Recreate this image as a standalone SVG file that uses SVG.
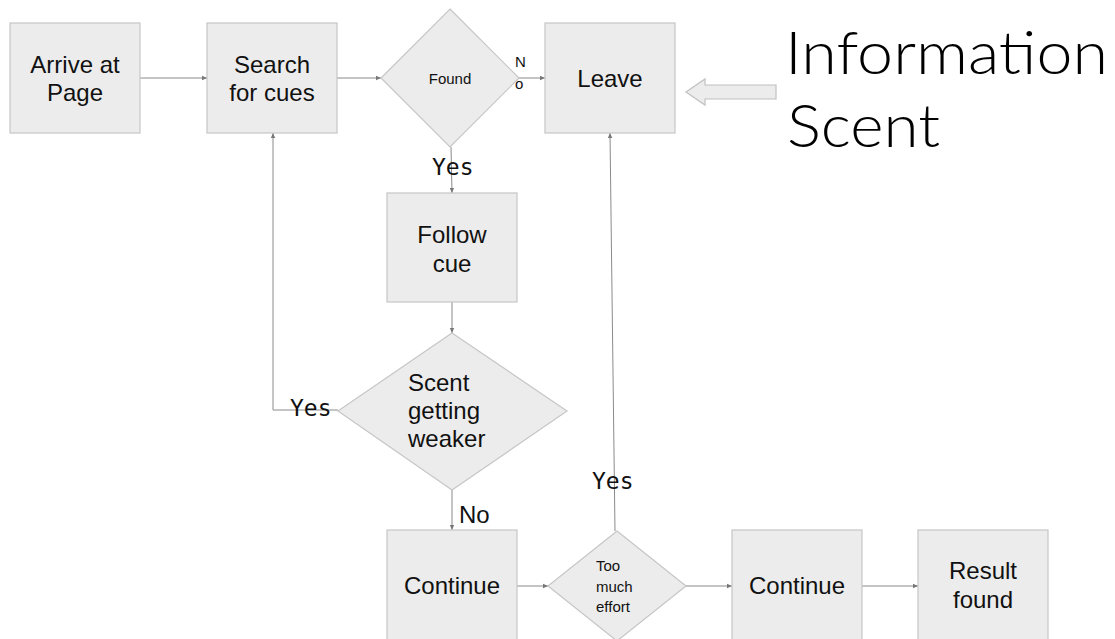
<svg xmlns="http://www.w3.org/2000/svg" width="1115" height="639" viewBox="0 0 1115 639">
<style>
.box{fill:#ececec;stroke:#c6c6c6;stroke-width:1.2}
.t{font-family:"Liberation Sans",Arial,sans-serif;font-size:24px;fill:#111}
.ts{font-family:"Liberation Sans",Arial,sans-serif;font-size:15px;fill:#111}
.lbl{font-family:"DejaVu Sans Mono",monospace;font-size:23px;fill:#111}
.big{font-family:Lato,"Open Sans",sans-serif;font-weight:300;font-size:60px;fill:#000}
.c{fill:none;stroke:#8a8a8a;stroke-width:1}
</style>
<defs>
<marker id="ah" markerWidth="6" markerHeight="6" refX="5" refY="3" orient="auto" markerUnits="userSpaceOnUse">
<path d="M0,0.8 L5,3 L0,5.2 Z" fill="#777"/>
</marker>
</defs>
<rect width="1115" height="639" fill="#fff"/>
<g id="connectors">
<line class="c" x1="140" y1="78" x2="207" y2="78" marker-end="url(#ah)"/>
<line class="c" x1="337" y1="78" x2="381" y2="78" marker-end="url(#ah)"/>
<line class="c" x1="519" y1="78" x2="545" y2="78" marker-end="url(#ah)"/>
<line class="c" x1="451" y1="147" x2="452" y2="193" marker-end="url(#ah)"/>
<line class="c" x1="452" y1="302" x2="452" y2="333" marker-end="url(#ah)"/>
<polyline class="c" points="338,410 273,410 273,133" marker-end="url(#ah)"/>
<line class="c" x1="452" y1="490" x2="452" y2="530" marker-end="url(#ah)"/>
<line class="c" x1="517" y1="586" x2="548" y2="586" marker-end="url(#ah)"/>
<line class="c" x1="615" y1="531" x2="610" y2="133" marker-end="url(#ah)"/>
<line class="c" x1="686" y1="586" x2="732" y2="586" marker-end="url(#ah)"/>
<line class="c" x1="862" y1="586" x2="918" y2="586" marker-end="url(#ah)"/>
<text class="ts" x="515" y="67" font-size="13">N</text>
<text class="ts" x="515" y="89" font-size="13">o</text>
<text class="lbl" x="432" y="175">Yes</text>
<text class="lbl" x="290" y="416">Yes</text>
<text class="t" x="459" y="523" font-size="22">No</text>
<text class="lbl" x="592" y="489">Yes</text>
</g>
<g id="arrive">
<rect class="box" x="10" y="23" width="130" height="110"/>
<text class="t" x="75" y="73" text-anchor="middle">Arrive at</text>
<text class="t" x="75" y="101" text-anchor="middle">Page</text>
</g>
<g id="search">
<rect class="box" x="207" y="23" width="130" height="110"/>
<text class="t" x="272" y="73" text-anchor="middle">Search</text>
<text class="t" x="272" y="101" text-anchor="middle">for cues</text>
</g>
<g id="found">
<polygon class="box" points="450,9 519,78 450,147 381,78"/>
<text class="ts" x="450" y="84" text-anchor="middle">Found</text>
</g>
<g id="leave">
<rect class="box" x="545" y="23" width="130" height="110"/>
<text class="t" x="610" y="87" text-anchor="middle">Leave</text>
</g>
<g id="block-arrow">
<polygon points="686,92 705,79 705,85 776,85 776,99 705,99 705,105" fill="#ececec" stroke="#c0c0c0" stroke-width="1.2"/>
</g>
<g id="title">
<text class="big" x="785" y="74" textLength="323" lengthAdjust="spacingAndGlyphs">Information</text>
<text class="big" x="787" y="147" textLength="153" lengthAdjust="spacingAndGlyphs">Scent</text>
</g>
<g id="follow">
<rect class="box" x="387" y="193" width="130" height="109"/>
<text class="t" x="452" y="243" text-anchor="middle">Follow</text>
<text class="t" x="452" y="272" text-anchor="middle">cue</text>
</g>
<g id="scent">
<polygon class="box" points="452,333 567,411 452,490 338,411"/>
<text class="t" x="408" y="391">Scent</text>
<text class="t" x="408" y="419">getting</text>
<text class="t" x="408" y="447">weaker</text>
</g>
<g id="continue1">
<rect class="box" x="387" y="530" width="130" height="115"/>
<text class="t" x="452" y="594" text-anchor="middle">Continue</text>
</g>
<g id="effort">
<polygon class="box" points="617,531 686,586 617,641 548,586"/>
<text class="ts" x="596" y="571" font-size="17">Too</text>
<text class="ts" x="596" y="592" font-size="17">much</text>
<text class="ts" x="596" y="612" font-size="17">effort</text>
</g>
<g id="continue2">
<rect class="box" x="732" y="530" width="130" height="115"/>
<text class="t" x="797" y="594" text-anchor="middle">Continue</text>
</g>
<g id="result">
<rect class="box" x="918" y="530" width="130" height="115"/>
<text class="t" x="983" y="579" text-anchor="middle">Result</text>
<text class="t" x="983" y="608" text-anchor="middle">found</text>
</g>
</svg>
